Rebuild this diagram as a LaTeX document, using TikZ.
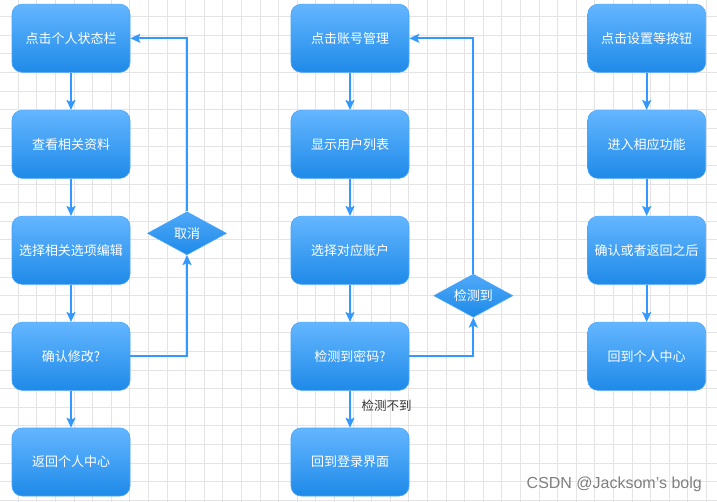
\documentclass[tikz,border=0pt]{standalone}
\usepackage{fontspec}
\setmainfont{Liberation Sans}
\newfontfamily\cjk{Noto Sans CJK SC}
\usetikzlibrary{arrows.meta,shapes.geometric}
\definecolor{gridc}{RGB}{228,228,228}
\definecolor{boxtop}{RGB}{100,182,255}
\definecolor{boxbot}{RGB}{30,138,232}
\definecolor{boxline}{RGB}{70,165,255}
\definecolor{arrc}{RGB}{51,153,255}
\definecolor{lblc}{RGB}{51,51,51}
\definecolor{wmc}{RGB}{128,128,128}
\tikzset{
  gridline/.style={draw=gridc,line width=0.9pt},
  stepbox/.style={rectangle,rounded corners=10pt,minimum width=118pt,minimum height=68pt,
    top color=boxtop,bottom color=boxbot,draw=boxline,line width=0.6pt,text=white,
    font=\cjk\fontsize{13}{15}\selectfont,inner sep=2pt},
  decision/.style={diamond,aspect=1.84,minimum width=79pt,minimum height=43pt,inner sep=0pt,
    top color=boxtop!70!boxbot,bottom color=boxbot,draw=boxline,line width=0.6pt,text=white,
    font=\cjk\fontsize{13}{15}\selectfont},
  arr/.style={draw=arrc,line width=1.8pt,-{Stealth[length=10pt,width=9pt,inset=2pt]},color=arrc},
  lbl/.style={text=lblc,font=\cjk\fontsize{12.5}{14}\selectfont,inner sep=0pt},
  wm/.style={text=wmc,font=\fontsize{16}{18}\selectfont,inner sep=0pt}
}
\begin{document}
\begin{tikzpicture}[x=1pt,y=-1pt]
\fill[white] (0,0) rectangle (717,502);
\useasboundingbox (0,0) rectangle (717,502);
\foreach \i in {0,...,39} \draw[gridline] ({-0.3+18.6*\i},0) -- ({-0.3+18.6*\i},502);
\foreach \j in {0,...,28} \draw[gridline] (0,{-1.9+18.6*\j}) -- (717,{-1.9+18.6*\j});
% column 1
\node[stepbox] (a1) at (71,38.3) {点击个人状态栏};
\node[stepbox] (a2) at (71,144.3) {查看相关资料};
\node[stepbox] (a3) at (71,250.3) {选择相关选项编辑};
\node[stepbox] (a4) at (71,356.3) {确认修改?};
\node[stepbox] (a5) at (71,462) {返回个人中心};
\node[decision] (d1) at (187,233.3) {取消};
% column 2
\node[stepbox] (b1) at (350,38.3) {点击账号管理};
\node[stepbox] (b2) at (350,144.3) {显示用户列表};
\node[stepbox] (b3) at (350,250.3) {选择对应账户};
\node[stepbox] (b4) at (350,356.3) {检测到密码?};
\node[stepbox] (b5) at (350,462) {回到登录界面};
\node[decision] (d2) at (473.3,295.7) {检测到};
% column 3
\node[stepbox] (c1) at (646.7,38.3) {点击设置等按钮};
\node[stepbox] (c2) at (646.7,144.3) {进入相应功能};
\node[stepbox] (c3) at (646.7,250.3) {确认或者返回之后};
\node[stepbox] (c4) at (646.7,356.3) {回到个人中心};
% connectors
\draw[arr] (a1) -- (a2);
\draw[arr] (a2) -- (a3);
\draw[arr] (a3) -- (a4);
\draw[arr] (a4) -- (a5);
\draw[arr] (a4.east) -| (d1.south);
\draw[arr] (d1.north) |- (a1.east);
\draw[arr] (b1) -- (b2);
\draw[arr] (b2) -- (b3);
\draw[arr] (b3) -- (b4);
\draw[arr] (b4) -- (b5);
\draw[arr] (b4.east) -| (d2.south);
\draw[arr] (d2.north) |- (b1.east);
\draw[arr] (c1) -- (c2);
\draw[arr] (c2) -- (c3);
\draw[arr] (c3) -- (c4);
\node[lbl] (l1) at (386.7,405.7) {检测不到};
\node[wm,anchor=east] (wm) at (702,484) {CSDN @Jacksom's bolg};
\end{tikzpicture}
\end{document}
